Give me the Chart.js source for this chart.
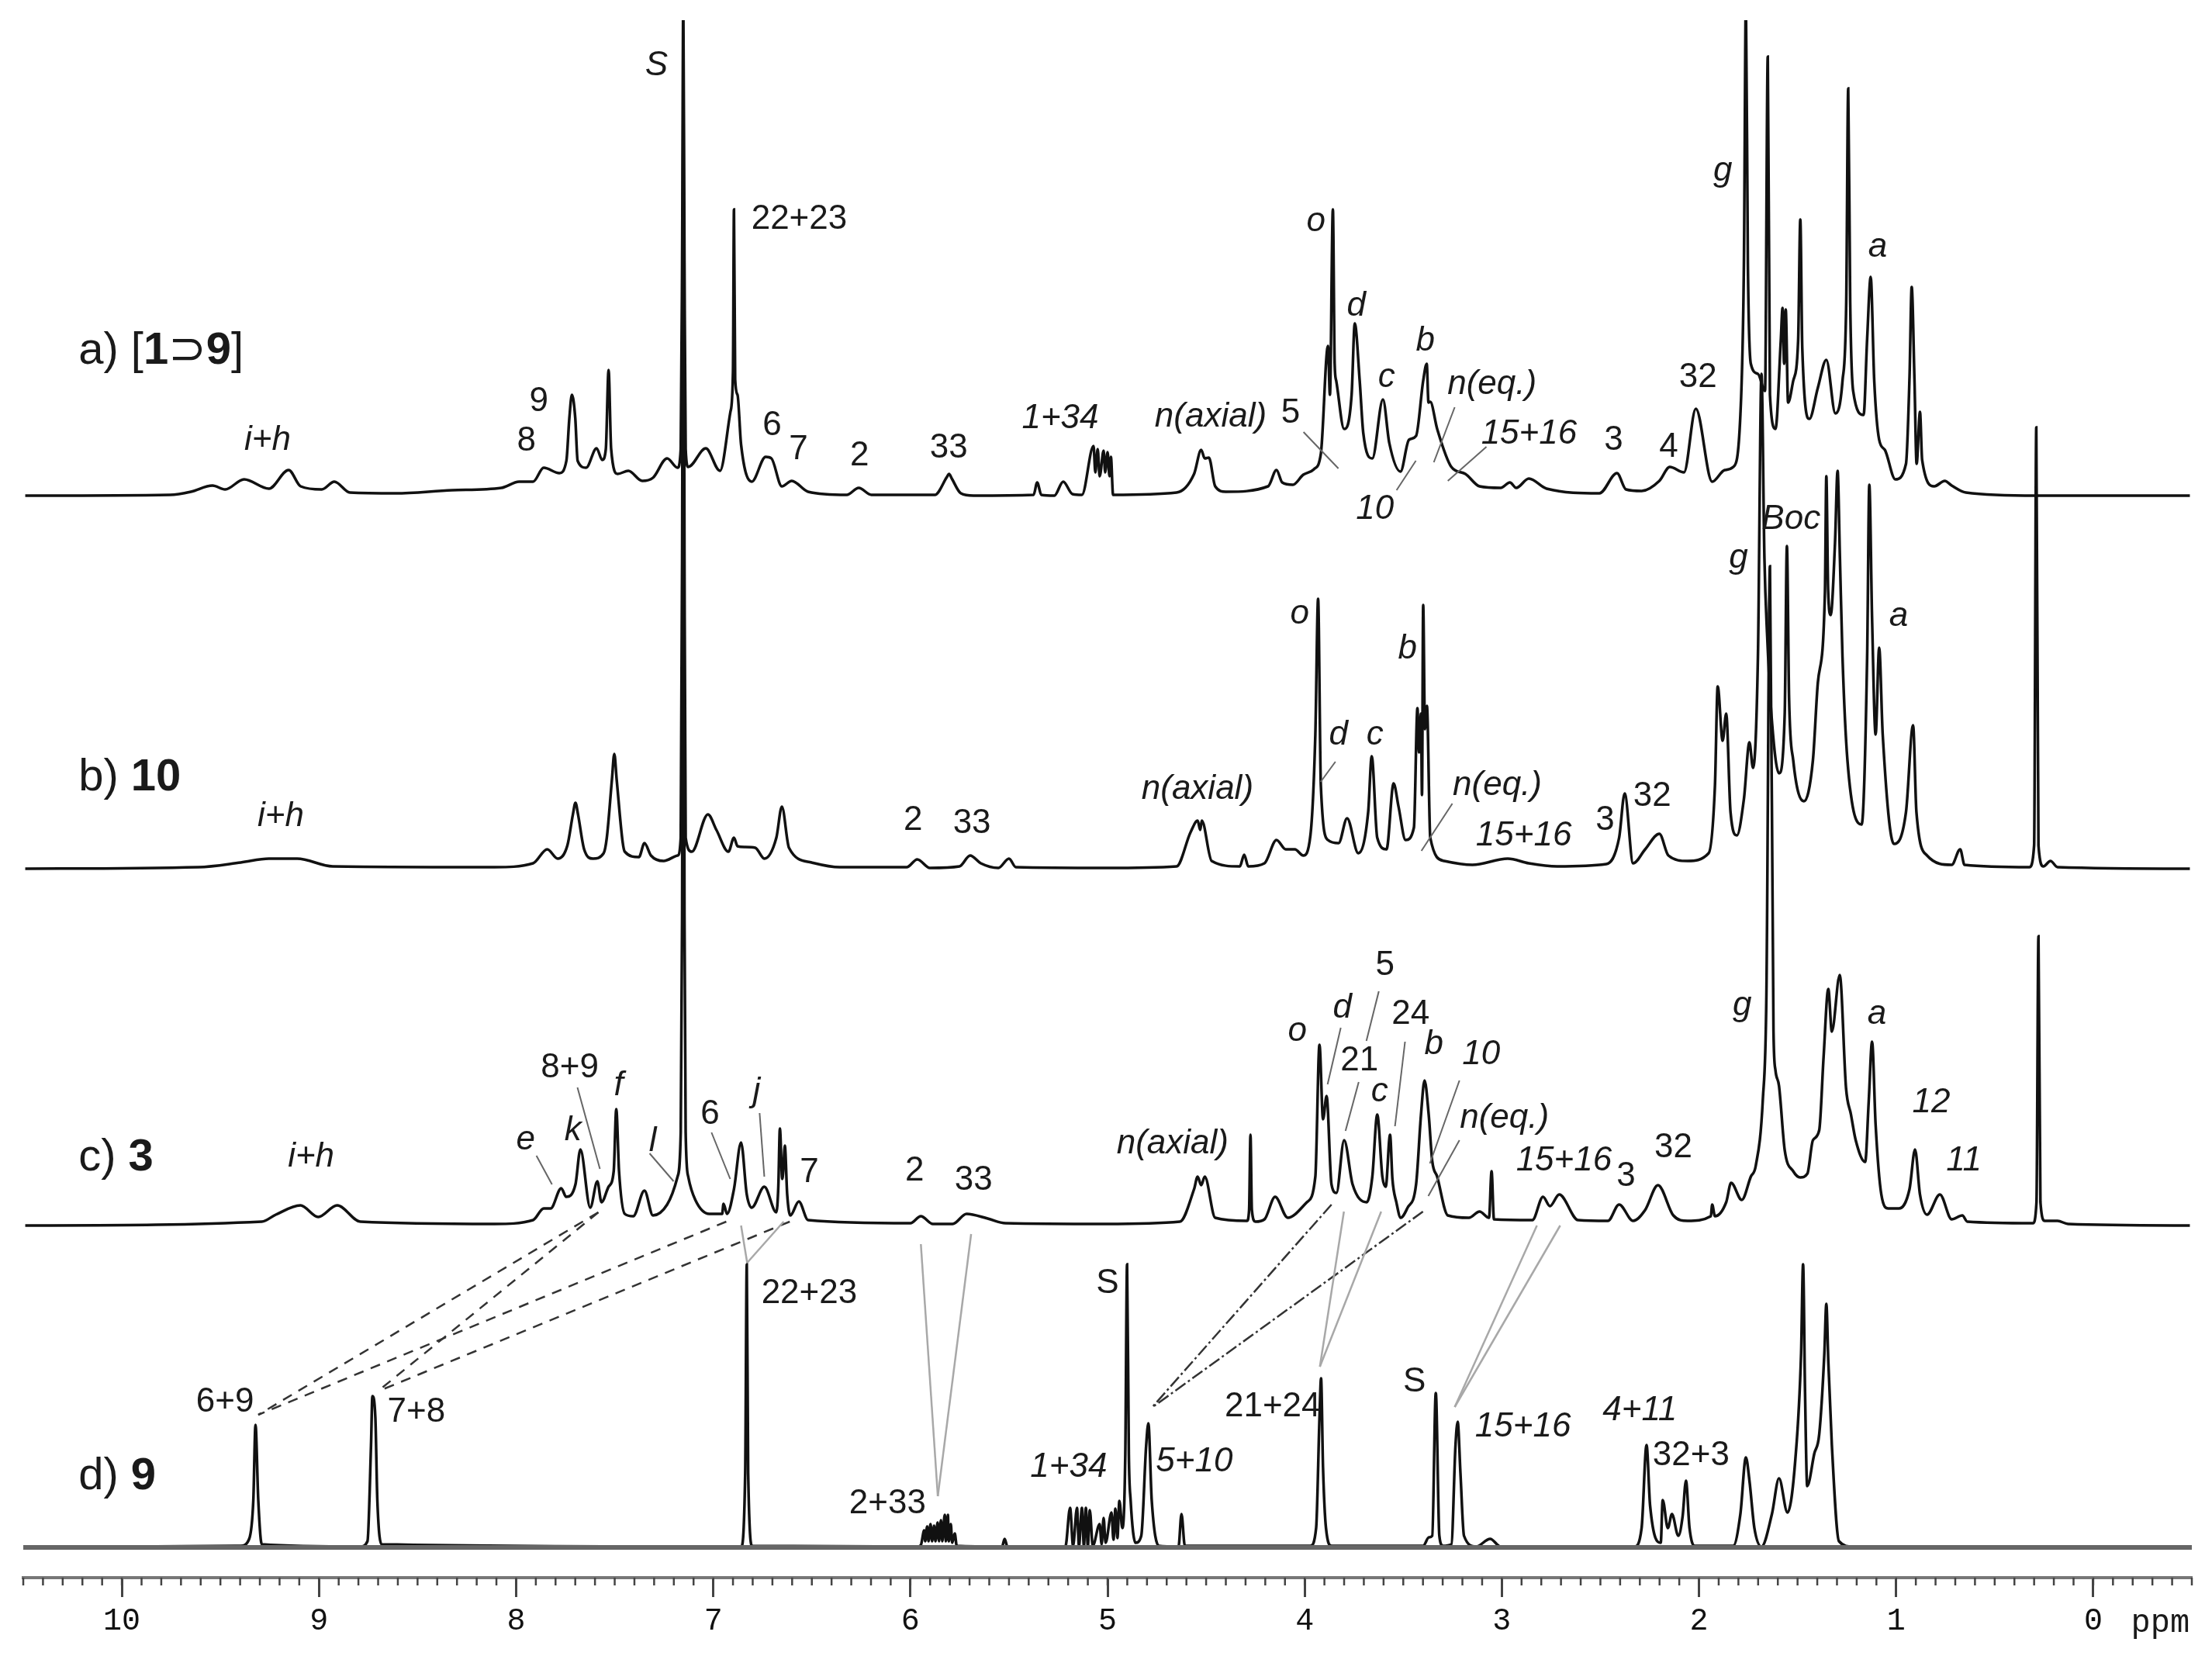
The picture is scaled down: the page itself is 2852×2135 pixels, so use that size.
<!DOCTYPE html>
<html>
<head>
<meta charset="utf-8">
<title>1H NMR spectra</title>
<script src="https://cdn.jsdelivr.net/npm/chart.js@4"></script>
<style>
  html, body { margin: 0; padding: 0; background: #fff; }
  canvas { display: block; }
</style>
</head>
<body>
<canvas id="nmr" width="2852" height="2135"></canvas>
<script>
// ── Data: chemical shift (ppm) and signal height above each trace's baseline ──

const tickLabels = ['0', '1', '2', '3', '4', '5', '6', '7', '8', '9', '10'];

const ppmA = [10.49, 9.755, 9.65, 9.54, 9.476, 9.38, 9.254, 9.154, 9.093, 8.986, 8.922, 8.843, 8.611, 8.325, 8.075, 7.985, 7.914, 7.86, 7.781,
  7.745, 7.73, 7.717, 7.70, 7.688, 7.645, 7.592, 7.563, 7.545, 7.531, 7.518, 7.485, 7.431, 7.36, 7.306, 7.234, 7.181, 7.165, 7.158, 7.152, 7.146, 7.14, 7.127, 7.038, 6.966,
  6.913, 6.90, 6.895, 6.889, 6.877, 6.859, 6.805, 6.734, 6.705, 6.652, 6.602, 6.519, 6.323, 6.262, 6.198, 5.876, 5.815, 5.804, 5.79, 5.744, 5.68,
  5.375, 5.357, 5.336, 5.27, 5.225, 5.178, 5.13, 5.071, 5.062, 5.05, 5.04, 5.02, 5.012, 5.0, 4.99, 4.983, 4.972,
  4.65, 4.561, 4.525, 4.507, 4.486, 4.454, 4.40, 4.186, 4.143, 4.114, 4.06, 4.007, 3.953, 3.918, 3.882, 3.872, 3.857, 3.848, 3.84, 3.80, 3.762, 3.746, 3.721, 3.703,
  3.657, 3.603, 3.571, 3.514, 3.471, 3.435, 3.399, 3.381, 3.372, 3.363, 3.328, 3.256, 3.185, 3.113, 3.006, 2.959, 2.927, 2.863, 2.773, 2.505,
  2.416, 2.37, 2.291, 2.201, 2.148, 2.076, 2.016, 1.933, 1.869, 1.826, 1.79, 1.772, 1.762, 1.752, 1.737, 1.701, 1.665, 1.651, 1.64, 1.612,
  1.585, 1.576, 1.568, 1.56, 1.548, 1.522, 1.497, 1.486, 1.476, 1.44, 1.397, 1.354, 1.308, 1.272, 1.253, 1.243, 1.233, 1.218, 1.165, 1.147, 1.129, 1.111, 1.086, 1.057, 1.004,
  0.95, 0.932, 0.921, 0.907, 0.896, 0.879, 0.868, 0.807, 0.753, 0.718, 0.646, 0.289, -0.49];
const intensityA = [0, 1, 5, 13, 8, 21, 9, 33, 12, 8, 18, 4, 3, 7, 10, 18, 18, 36, 29,
  45, 100, 130, 100, 45, 36, 61, 46, 60, 162, 60, 28, 32, 19, 23, 48, 36, 60, 300, 640, 300, 60, 37, 61, 32,
  108, 160, 369, 150, 130, 66, 18, 50, 48, 12, 19, 5, 1, 10, 1, 1, 24, 28, 22, 3, 0,
  1, 17, 1, 0, 18, 2, 1, 64, 30, 60, 25, 58, 30, 56, 25, 50, 1,
  4, 28, 59, 48, 49, 12, 5, 12, 33, 17, 14, 27, 34, 54, 193, 130, 369, 170, 148, 86, 130, 222, 148, 81,
  48, 124, 68, 31, 72, 77, 148, 170, 120, 121, 86, 37, 28, 12, 10, 17, 10, 22, 9, 3,
  29, 8, 6, 19, 37, 30, 112, 18, 33, 37, 104, 300, 640, 300, 170, 157, 135, 566, 130, 86,
  200, 242, 170, 240, 120, 148, 200, 356, 190, 99, 139, 175, 106, 148, 250, 525, 250, 135, 104, 202, 282, 148, 72, 59, 21,
  41, 153, 269, 150, 41, 108, 46, 12, 19, 13, 4, 0, 0];

const ppmB = [10.49, 9.612, 9.397, 9.254, 9.111, 8.93, 8.11, 7.914, 7.842, 7.789, 7.74, 7.712, 7.699, 7.686, 7.655, 7.61, 7.556, 7.54, 7.514, 7.502, 7.49, 7.46, 7.449, 7.377, 7.349, 7.316, 7.252,
  7.181, 7.165, 7.158, 7.152, 7.146, 7.14, 7.109, 7.027, 6.984, 6.923, 6.895, 6.877, 6.841, 6.787, 6.741, 6.68, 6.652, 6.616, 6.501, 6.358, 6.019, 5.965, 5.901, 5.751, 5.697, 5.643, 5.554, 5.5, 5.465, 5.01,
  4.65, 4.579, 4.543, 4.53, 4.522, 4.472, 4.329, 4.307, 4.286, 4.204, 4.143, 4.096, 4.05, 4.007, 3.971, 3.946, 3.932, 3.918, 3.882, 3.828, 3.785, 3.728, 3.678, 3.66, 3.632, 3.585,
  3.549, 3.524, 3.488, 3.446, 3.428, 3.42, 3.41, 3.405, 3.399, 3.39, 3.38, 3.363, 3.292, 3.149, 2.97, 2.863, 2.72, 2.47, 2.405, 2.377, 2.334, 2.273, 2.201, 2.155, 2.058,
  1.951, 1.919, 1.905, 1.88, 1.862, 1.84, 1.808, 1.772, 1.744, 1.726, 1.701, 1.683, 1.668, 1.654, 1.629, 1.594, 1.565, 1.554, 1.543, 1.522, 1.468, 1.422, 1.397, 1.361, 1.354, 1.345, 1.332, 1.31, 1.297, 1.285, 1.272, 1.247, 1.175,
  1.147, 1.136, 1.122, 1.104, 1.086, 1.068, 1.011, 0.95, 0.914, 0.897, 0.843, 0.718, 0.675, 0.653, 0.324, 0.30, 0.289, 0.278, 0.253, 0.217, 0.181, -0.49];
const intensityB = [0, 2, 8, 13, 13, 3, 2, 7, 25, 13, 30, 70, 85, 70, 25, 13, 20, 40, 115, 148, 115, 35, 22, 15, 33, 17, 10,
  17, 40, 400, 1000, 400, 40, 22, 70, 50, 22, 40, 29, 28, 27, 13, 40, 80, 27, 8, 2, 2, 12, 1, 3, 17, 7, 1, 13, 2, 1,
  3, 47, 62, 50, 62, 10, 3, 18, 3, 7, 37, 25, 25, 17, 43, 173, 348, 107, 37, 33, 65, 20, 73, 145, 40, 25,
  110, 80, 37, 53, 207, 150, 200, 95, 340, 180, 210, 40, 10, 5, 13, 7, 3, 6, 40, 97, 7, 25, 45, 17, 10,
  20, 107, 235, 165, 200, 73, 43, 90, 163, 130, 273, 638, 400, 300, 187, 123, 200, 416, 220, 140, 87, 140, 240, 357, 506, 360, 327, 420, 513, 400, 273, 140, 57,
  273, 495, 323, 173, 285, 173, 32, 73, 185, 73, 17, 5, 25, 5, 2, 30, 569, 30, 3, 10, 2, 0];

const ppmC = [10.49, 9.29, 9.219, 9.094, 9.004, 8.908, 8.79, 8.11, 7.914, 7.86, 7.825, 7.771, 7.746, 7.699, 7.674, 7.624, 7.588, 7.567, 7.531, 7.505, 7.492, 7.478, 7.449, 7.406, 7.349, 7.306, 7.234, 7.181, 7.165, 7.158, 7.152, 7.146, 7.14, 7.127,
  7.091, 7.02, 6.955, 6.948, 6.93, 6.895, 6.859, 6.83, 6.805, 6.741, 6.68, 6.67, 6.662, 6.65, 6.645, 6.637, 6.625, 6.609, 6.566, 6.519, 6.0, 5.947, 5.886, 5.786, 5.715, 5.608, 5.518, 5.01,
  4.633, 4.561, 4.543, 4.525, 4.507, 4.454, 4.293, 4.282, 4.275, 4.268, 4.25, 4.204, 4.15, 4.086, 3.989, 3.946, 3.925, 3.907, 3.889, 3.864, 3.839, 3.8, 3.757, 3.685, 3.657, 3.632, 3.606, 3.589, 3.567, 3.555, 3.535, 3.513,
  3.478, 3.435, 3.41, 3.392, 3.371, 3.353, 3.328, 3.274, 3.167, 3.113, 3.065, 3.052, 3.04, 2.845, 2.791, 2.756, 2.709, 2.613, 2.462, 2.405, 2.334, 2.273, 2.208, 2.13, 2.058,
  1.94, 1.933, 1.919, 1.862, 1.837, 1.783, 1.737, 1.712, 1.676, 1.658, 1.64, 1.622, 1.612, 1.594, 1.565, 1.522, 1.486, 1.45, 1.422, 1.39, 1.368, 1.344, 1.326, 1.286, 1.254, 1.229, 1.205, 1.157, 1.139, 1.122, 1.104, 1.075, 1.04, 0.986,
  0.932, 0.904, 0.879, 0.843, 0.778, 0.718, 0.664, 0.639, 0.306, 0.288, 0.278, 0.268, 0.246, 0.181, 0.128, -0.49];
const intensityC = [0, 5, 14, 26, 11, 26, 5, 2, 7, 22, 22, 48, 37, 53, 98, 23, 57, 30, 50, 70, 150, 70, 15, 12, 45, 13, 27, 63, 120, 400, 1100, 400, 120, 63,
  33, 15, 15, 28, 15, 47, 107, 40, 23, 50, 17, 50, 125, 60, 70, 103, 40, 13, 31, 7, 3, 12, 2, 2, 15, 9, 3, 2,
  5, 47, 63, 52, 63, 10, 6, 20, 117, 20, 5, 8, 37, 10, 30, 63, 233, 137, 167, 53, 42, 110, 53, 30, 63, 143, 63, 50, 117, 60, 30, 10,
  23, 53, 143, 187, 143, 83, 63, 13, 10, 18, 10, 70, 8, 7, 37, 25, 40, 7, 6, 27, 6, 20, 52, 13, 6,
  12, 27, 12, 30, 55, 33, 63, 77, 163, 297, 850, 250, 200, 180, 97, 70, 62, 67, 110, 123, 217, 305, 250, 323, 177, 143, 110, 82, 160, 237, 130, 40, 22, 22,
  47, 98, 40, 14, 40, 8, 13, 5, 3, 30, 373, 30, 6, 6, 2, 0];

const ppmD = [10.49, 9.397, 9.354, 9.333, 9.322, 9.308, 9.29, 8.79, 8.754, 8.736, 8.729, 8.714, 8.704, 8.682, 6.859, 6.838, 6.83, 6.823, 6.802, 5.965,
  5.947, 5.93, 5.925, 5.915, 5.908, 5.898, 5.89, 5.88, 5.873, 5.862, 5.855, 5.845, 5.838, 5.826, 5.82, 5.81, 5.805, 5.795, 5.788, 5.775, 5.765, 5.535, 5.522, 5.508,
  5.214, 5.19, 5.175, 5.155, 5.145, 5.13, 5.12, 5.11, 5.10, 5.09, 5.075, 5.04, 5.03, 5.02, 5.01, 4.98, 4.97, 4.96, 4.95, 4.94, 4.925, 4.91, 4.901, 4.892, 4.883, 4.858, 4.829, 4.804, 4.793, 4.776, 4.74,
  4.64, 4.625, 4.608, 3.971, 3.942, 3.925, 3.917, 3.907, 3.892, 3.864, 3.399, 3.37, 3.353, 3.335, 3.317, 3.299, 3.256, 3.235, 3.224, 3.21, 3.192, 3.131, 3.059, 3.006,
  2.327, 2.291, 2.266, 2.248, 2.194, 2.184, 2.158, 2.137, 2.105, 2.083, 2.066, 2.048, 2.023, 1.826, 1.79, 1.762, 1.744, 1.719, 1.683, 1.63, 1.594, 1.551, 1.511, 1.482, 1.472, 1.462, 1.451, 1.415, 1.39, 1.364, 1.354, 1.344, 1.326, 1.29, 1.219, -0.49];
const intensityD = [0, 2, 11, 61, 158, 61, 4, 1, 8, 132, 195, 167, 61, 4, 1, 96, 365, 96, 2, 1,
  3, 22, 8, 27, 8, 30, 8, 28, 8, 32, 8, 35, 8, 42, 8, 42, 8, 30, 6, 18, 2, 1, 11, 1,
  1, 51, 2, 51, 2, 51, 2, 51, 2, 48, 2, 30, 4, 38, 6, 45, 10, 50, 12, 60, 25, 120, 365, 120, 61, 6, 15, 132, 160, 61, 2,
  1, 43, 2, 2, 25, 167, 218, 103, 25, 2, 2, 13, 15, 199, 15, 2, 4, 132, 162, 96, 15, 1, 11, 1,
  1, 25, 132, 54, 6, 61, 25, 43, 15, 40, 86, 25, 2, 2, 43, 116, 86, 25, 1, 43, 89, 45, 114, 250, 365, 200, 79, 121, 146, 250, 314, 240, 132, 8, 1, 0];

const baselineD = [10.5, -0.5];

// ── Annotations: [text, ppm, height above the ppm axis] ──

const italicLabels = [
  // a
  ['S', 7.288, 1949], ['i+h', 9.261, 1466], ['1+34', 5.24, 1494], ['n(axial)', 4.477, 1496], ['o', 3.943, 1748], ['d', 3.738, 1639], ['c', 3.585, 1547],
  ['b', 3.388, 1594], ['n(eq.)', 3.05, 1538], ['15+16', 2.862, 1474], ['10', 3.644, 1377], ['g', 1.879, 1813], ['a', 1.093, 1715], ['Boc', 1.533, 1364],
  // b
  ['i+h', 9.194, 981], ['n(axial)', 4.544, 1016], ['o', 4.025, 1242], ['d', 3.829, 1086], ['c', 3.644, 1086], ['b', 3.479, 1197], ['n(eq.)', 3.023, 1021],
  ['15+16', 2.889, 956], ['g', 1.8, 1314], ['a', 0.987, 1239],
  // c
  ['i+h', 9.04, 542], ['e', 7.952, 564], ['k', 7.712, 576], ['f', 7.48, 634], ['l', 7.307, 562], ['j', 6.781, 626], ['n(axial)', 4.67, 559], ['o', 4.037, 704],
  ['d', 3.809, 734], ['c', 3.62, 626], ['b', 3.345, 687], ['10', 3.105, 674], ['n(eq.)', 2.987, 592], ['15+16', 2.685, 537], ['g', 1.781, 737], ['a', 1.097, 726],
  ['12', 0.822, 612], ['11', 0.656, 537],
  // d
  ['1+34', 5.197, 142], ['5+10', 4.56, 149], ['15+16', 2.893, 194], ['4+11', 2.3, 215],
];
const uprightLabels = [
  // a
  ['22+23', 6.564, 1751], ['9', 7.885, 1516], ['8', 7.948, 1465], ['6', 6.702, 1485], ['7', 6.568, 1454], ['2', 6.258, 1446], ['33', 5.806, 1456], ['5', 4.072, 1501],
  ['3', 2.433, 1466], ['4', 2.154, 1457], ['32', 2.005, 1547],
  // b
  ['2', 5.987, 976], ['33', 5.688, 972], ['3', 2.476, 976], ['32', 2.237, 1007],
  // c
  ['8+9', 7.728, 657], ['6', 7.016, 597], ['7', 6.513, 522], ['2', 5.979, 524], ['33', 5.68, 512], ['5', 3.593, 789], ['21', 3.722, 666], ['24', 3.463, 726],
  ['3', 2.37, 517], ['32', 2.13, 554],
  // d
  ['6+9', 9.477, 226], ['7+8', 8.506, 213], ['22+23', 6.513, 366], ['2+33', 6.116, 95], ['S', 5.0, 379], ['21+24', 4.163, 220], ['S', 3.443, 252], ['32+3', 2.04, 157],
];
const unitLabel = ['ppm', -0.34, -59];

// trace titles: each part is [text, bold]
const titles = [
  { ppm: 10.22, height: 1581, parts: [['a) [', false], ['1', true], ['\u2283', false], ['9', true], [']', false]] },
  { ppm: 10.22, height: 1031, parts: [['b) ', false], ['10', true]] },
  { ppm: 10.22, height: 541, parts: [['c) ', false], ['3', true]] },
  { ppm: 10.22, height: 130, parts: [['d) ', false], ['9', true]] },
];

// ── Leader lines: [ppm1, height1, ppm2, height2] ──

const leadersThin = [[4.006, 1477, 3.829, 1430], [3.436, 1440, 3.534, 1402], [3.239, 1509, 3.345, 1438], [3.078, 1458, 3.274, 1414],
  [3.844, 1052, 3.919, 1026], [3.251, 998, 3.408, 937],
  [7.897, 544, 7.818, 507], [7.689, 632, 7.575, 527], [7.323, 547, 7.201, 511], [7.009, 574, 6.914, 514], [6.765, 599, 6.741, 517],
  [3.817, 709, 3.884, 636], [3.624, 756, 3.687, 692], [3.726, 639, 3.793, 576], [3.491, 691, 3.542, 582], [3.215, 641, 3.365, 534], [3.215, 564, 3.373, 492]];
const leadersDashed = [[7.583, 471, 9.308, 210], [7.583, 471, 8.703, 240], [6.934, 459, 9.308, 210], [6.612, 459, 8.703, 240]];
const leadersDashDot = [[3.864, 481, 4.776, 219], [3.4, 472, 4.776, 219]];
const leadersGray = [[6.859, 454, 6.828, 406], [6.643, 459, 6.828, 406], [5.947, 430, 5.861, 105], [5.692, 443, 5.861, 105],
  [3.801, 472, 3.923, 272], [3.612, 472, 3.923, 272], [2.822, 454, 3.239, 220], [2.704, 454, 3.239, 220]];

// ── Layout ──

const OFFSET_A = 1395;
const OFFSET_B = 914;
const OFFSET_C = 454;
const OFFSET_D = 39;

function tracePoints(ppm, values, offset) {
  return ppm.map((p, i) => ({ x: p, y: values[i] + offset }));
}

function traceDataset(ppm, values, offset, color, width) {
  return {
    data: tracePoints(ppm, values, offset),
    borderColor: color,
    borderWidth: width,
    cubicInterpolationMode: 'monotone',
    showLine: true,
    pointRadius: 0,
  };
}

function leaderDatasets(list, color, width, dash) {
  return list.map(l => ({
    data: [{ x: l[0], y: l[1] }, { x: l[2], y: l[3] }],
    borderColor: color,
    borderWidth: width,
    borderDash: dash,
    showLine: true,
    pointRadius: 0,
  }));
}

// minor ticks every 0.1 ppm, drawn through the x scale
const minorTicks = {
  id: 'minorTicks',
  afterDraw(chart) {
    const { ctx, scales: { x } } = chart;
    ctx.save();
    ctx.strokeStyle = '#444';
    ctx.lineWidth = 2.5;
    for (let i = -5; i <= 105; i++) {
      const px = x.getPixelForValue(i / 10);
      ctx.beginPath();
      ctx.moveTo(px, x.top);
      ctx.lineTo(px, x.top + 10);
      ctx.stroke();
    }
    ctx.restore();
  }
};

const peakLabels = {
  id: 'peakLabels',
  afterDatasetsDraw(chart) {
    const { ctx, scales: { x, y } } = chart;
    ctx.save();
    ctx.fillStyle = '#1a1a1a';
    ctx.textBaseline = 'middle';
    ctx.textAlign = 'center';

    const put = ([text, p, h]) => ctx.fillText(text, x.getPixelForValue(p), y.getPixelForValue(h));
    ctx.font = 'italic 44px "Liberation Sans"';
    italicLabels.forEach(put);
    ctx.font = '44px "Liberation Sans"';
    uprightLabels.forEach(put);
    ctx.font = '42px "Liberation Mono"';
    put(unitLabel);

    ctx.textAlign = 'left';
    titles.forEach(t => {
      let px = x.getPixelForValue(t.ppm);
      const py = y.getPixelForValue(t.height);
      t.parts.forEach(([text, bold]) => {
        ctx.font = (bold ? 'bold ' : '') + '58px "Liberation Sans", "DejaVu Sans"';
        ctx.fillText(text, px, py);
        px += ctx.measureText(text).width;
      });
    });
    ctx.restore();
  }
};

new Chart(document.getElementById('nmr'), {
  type: 'scatter',
  data: {
    datasets: [
      ...leaderDatasets(leadersGray, '#a8a8a8', 2.5, []),
      ...leaderDatasets(leadersThin, '#666', 2, []),
      ...leaderDatasets(leadersDashed, '#333', 2.5, [13, 10]),
      ...leaderDatasets(leadersDashDot, '#333', 2.5, [16, 4, 3, 4]),
      {
        data: baselineD.map(p => ({ x: p, y: OFFSET_D })),
        borderColor: '#666',
        borderWidth: 6,
        showLine: true,
        pointRadius: 0,
      },
      traceDataset(ppmD, intensityD, OFFSET_D, '#111', 3.5),
      traceDataset(ppmC, intensityC, OFFSET_C, '#111', 3.5),
      traceDataset(ppmB, intensityB, OFFSET_B, '#111', 3.5),
      traceDataset(ppmA, intensityA, OFFSET_A, '#111', 3.5),
    ]
  },
  options: {
    responsive: false,
    animation: false,
    devicePixelRatio: 1,
    layout: { padding: { left: 30, right: 26, top: 26, bottom: 0 } },
    plugins: { legend: { display: false }, tooltip: { enabled: false } },
    scales: {
      x: {
        type: 'linear',
        reverse: true,
        min: -0.5,
        max: 10.5,
        position: 'bottom',
        afterFit(scale) { scale.height = 101; },
        // whole-ppm ticks only; with min/max on half values Chart.js would otherwise tick at x.5
        afterBuildTicks(scale) { scale.ticks = tickLabels.map(t => ({ value: Number(t) })); },
        grid: { drawOnChartArea: false, tickLength: 25, tickColor: '#444', tickWidth: 3 },
        border: { display: true, color: '#777', width: 4 },
        ticks: {
          maxRotation: 0,
          autoSkip: false,
          padding: 7,
          color: '#111',
          font: { family: '"Liberation Mono"', size: 40 },
          callback: (v) => String(v),
        },
      },
      y: { type: 'linear', display: false, min: 0, max: 2008 },
    },
  },
  plugins: [minorTicks, peakLabels],
});
</script>
</body>
</html>
